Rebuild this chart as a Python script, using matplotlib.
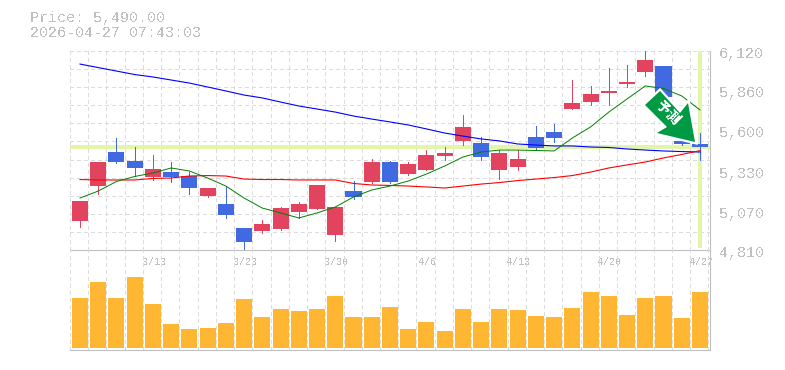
from matplotlib import pyplot as plt
from matplotlib.patches import Polygon
import numpy as np

W, H = 785, 370

# candles, red = close above open
opens = [5003, 5231, 5455, 5396, 5291, 5323, 5297, 5165, 5113, 4955, 4935, 4948,
         5060, 5080, 4909, 5198, 5258, 5389, 5310, 5337, 5429, 5528, 5514, 5337,
         5356, 5554, 5587, 5738, 5784, 5844, 5903, 5982, 6021, 5528, 5508]
closes = [5133, 5389, 5389, 5350, 5343, 5291, 5218, 5218, 5040, 4863, 4981, 5086,
          5113, 5238, 5093, 5159, 5389, 5258, 5376, 5435, 5449, 5620, 5422, 5449,
          5409, 5481, 5547, 5778, 5837, 5857, 5916, 6061, 5817, 5508, 5488]
highs = [5133, 5389, 5547, 5488, 5435, 5389, 5323, 5218, 5225, 4955, 5007, 5093,
         5126, 5238, 5093, 5264, 5409, 5396, 5389, 5468, 5488, 5699, 5554, 5468,
         5468, 5626, 5639, 5929, 5890, 6008, 6028, 6120, 6021, 5528, 5580]
lows = [4961, 5179, 5383, 5297, 5271, 5258, 5179, 5159, 5021, 4810, 4922, 4942,
        5021, 5080, 4869, 5146, 5251, 5251, 5304, 5337, 5402, 5501, 5402, 5277,
        5337, 5468, 5521, 5738, 5765, 5765, 5883, 5955, 5817, 5501, 5402]

ma_short = [5152, 5198, 5261, 5294, 5317, 5350, 5330, 5284, 5231, 5152, 5086, 5054,
            5021, 5054, 5093, 5159, 5205, 5231, 5264, 5310, 5363, 5422, 5455, 5468,
            5468, 5465, 5462, 5547, 5620, 5718, 5804, 5890, 5873, 5824, 5732]
ma_mid = [5274, 5271, 5271, 5271, 5281, 5284, 5297, 5300, 5297, 5277, 5274, 5274,
          5271, 5271, 5271, 5248, 5238, 5235, 5231, 5225, 5218, 5231, 5244, 5254,
          5267, 5277, 5287, 5300, 5323, 5350, 5370, 5389, 5416, 5439, 5464]
ma_long = [6034, 6011, 5988, 5965, 5949, 5929, 5909, 5883, 5857, 5830, 5811, 5784,
           5758, 5738, 5718, 5692, 5672, 5653, 5633, 5607, 5580, 5560, 5541, 5528,
           5508, 5501, 5495, 5495, 5488, 5485, 5475, 5468, 5462, 5458, 5455]

volumes = [50, 66, 50, 71, 44, 24, 19, 20, 25, 49, 31, 39, 37, 39, 52, 31, 31, 41,
           19, 26, 17, 39, 26, 39, 38, 32, 31, 40, 56, 52, 33, 50, 52, 30, 56]

date_idx = [4, 9, 14, 19, 24, 29, 34]
date_labels = ['3/13', '3/23', '3/30', '4/6', '4/13', '4/20', '4/27']
price_ticks = [6120, 5860, 5600, 5330, 5070, 4810]
price_labels = ['6,120', '5,860', '5,600', '5,330', '5,070', '4,810']
last_price = 5490

RED = '#e2435f'
BLUE = '#4169e1'
GREY = '#c0c0c0'
GRID = '#dcdcdc'
LIME = '#e2f5a9'
ORANGE = '#ffb733'
ARROW = '#009944'

plt.rcParams['font.family'] = ['Liberation Mono']
plt.rcParams['text.antialiased'] = False
plt.rcParams['lines.antialiased'] = False


def panel(fig, left, top, right, bottom):
    return fig.add_axes([left / W, 1 - bottom / H, (right - left) / W, (bottom - top) / H])


def style_panel(ax):
    ax.set_xlim(-0.548, 34.55)
    ax.set_xticks(np.arange(0, 36) - 0.548)
    ax.tick_params(length=0, labelbottom=False, labelleft=False)
    ax.grid(True, color=GRID, linewidth=0.55, linestyle=(0, (4, 4)))
    ax.set_axisbelow(True)
    for side in ['top', 'left']:
        ax.spines[side].set_visible(False)
    for side in ['bottom', 'right']:
        ax.spines[side].set_color(GREY)
        ax.spines[side].set_linewidth(0.8)


fig = plt.figure(figsize=(W / 100, H / 100), dpi=100, facecolor='white')

# price panel
ax = panel(fig, 70, 51, 710, 250)
style_panel(ax)
ax.set_ylim(4810, 6120)
ax.set_yticks(np.linspace(4810, 6120, 12))

x = np.arange(len(opens))
colors = [RED if c > o else BLUE for o, c in zip(opens, closes)]
ax.axhline(last_price, color=LIME, linewidth=2.6, zorder=1.5)
ax.vlines(x[-1], 4825, 6120, color=LIME, linewidth=2.6, zorder=1.5)
ax.vlines(x, lows, highs, color=colors, linewidth=0.72, zorder=2, antialiased=False)
ax.bar(x, np.abs(np.array(closes) - np.array(opens)), bottom=np.minimum(opens, closes),
       width=0.88, color=colors, linewidth=0, zorder=2.1)
ax.plot(x, ma_long, color='#0000ff', linewidth=0.8, antialiased=True, zorder=3)
ax.plot(x, ma_mid, color='#ff0000', linewidth=0.8, antialiased=True, zorder=3)
ax.plot(x, ma_short, color='#008000', linewidth=0.7, antialiased=True, zorder=3)

for val, lab in zip(price_ticks, price_labels):
    ax.annotate(lab, (1, val), xycoords=ax.get_yaxis_transform(), xytext=(9, -3),
                textcoords='offset pixels', color=GREY, fontsize=10.8, va='center',
                ha='left', annotation_clip=False)
for i, lab in zip(date_idx, date_labels):
    ax.annotate(lab, (i, 0), xycoords=ax.get_xaxis_transform(), xytext=(1, -12),
                textcoords='offset pixels', color=GREY, fontsize=7.2, va='center',
                ha='center', annotation_clip=False)

# volume panel
vol = panel(fig, 70, 250, 710, 350)
style_panel(vol)
vol.set_ylim(-2, 98)
vol.set_yticks([])
vol.bar(x, volumes, width=0.88, color=ORANGE, linewidth=0, zorder=2)
vol.patch.set_alpha(0)

# header and arrow go on a full figure overlay in pixels
top = fig.add_axes([0, 0, 1, 1])
top.set_xlim(0, W)
top.set_ylim(H, 0)
top.axis('off')
top.text(30, 18, 'Price: 5,490.00', color=GREY, fontsize=10.8, va='center', ha='left')
top.text(30, 33, '2026-04-27 07:43:03', color=GREY, fontsize=10.8, va='center', ha='left')
arrow_pts = [(660, 91), (645, 105), (667, 127), (657, 133), (695, 142), (688, 103), (680, 113)]
top.add_patch(Polygon(arrow_pts, closed=True, facecolor='white', edgecolor='white',
                      linewidth=3.2, joinstyle='miter', zorder=5))
top.add_patch(Polygon(arrow_pts, closed=True, facecolor=ARROW, edgecolor='none', zorder=5.1))
top.text(668, 113.5, '予測', color='white', fontsize=10, fontweight='bold', rotation=-45,
         rotation_mode='anchor', ha='center', va='center',
         family=['Noto Sans CJK JP', 'DejaVu Sans'], zorder=6)

fig.savefig('out.png', dpi=100)
